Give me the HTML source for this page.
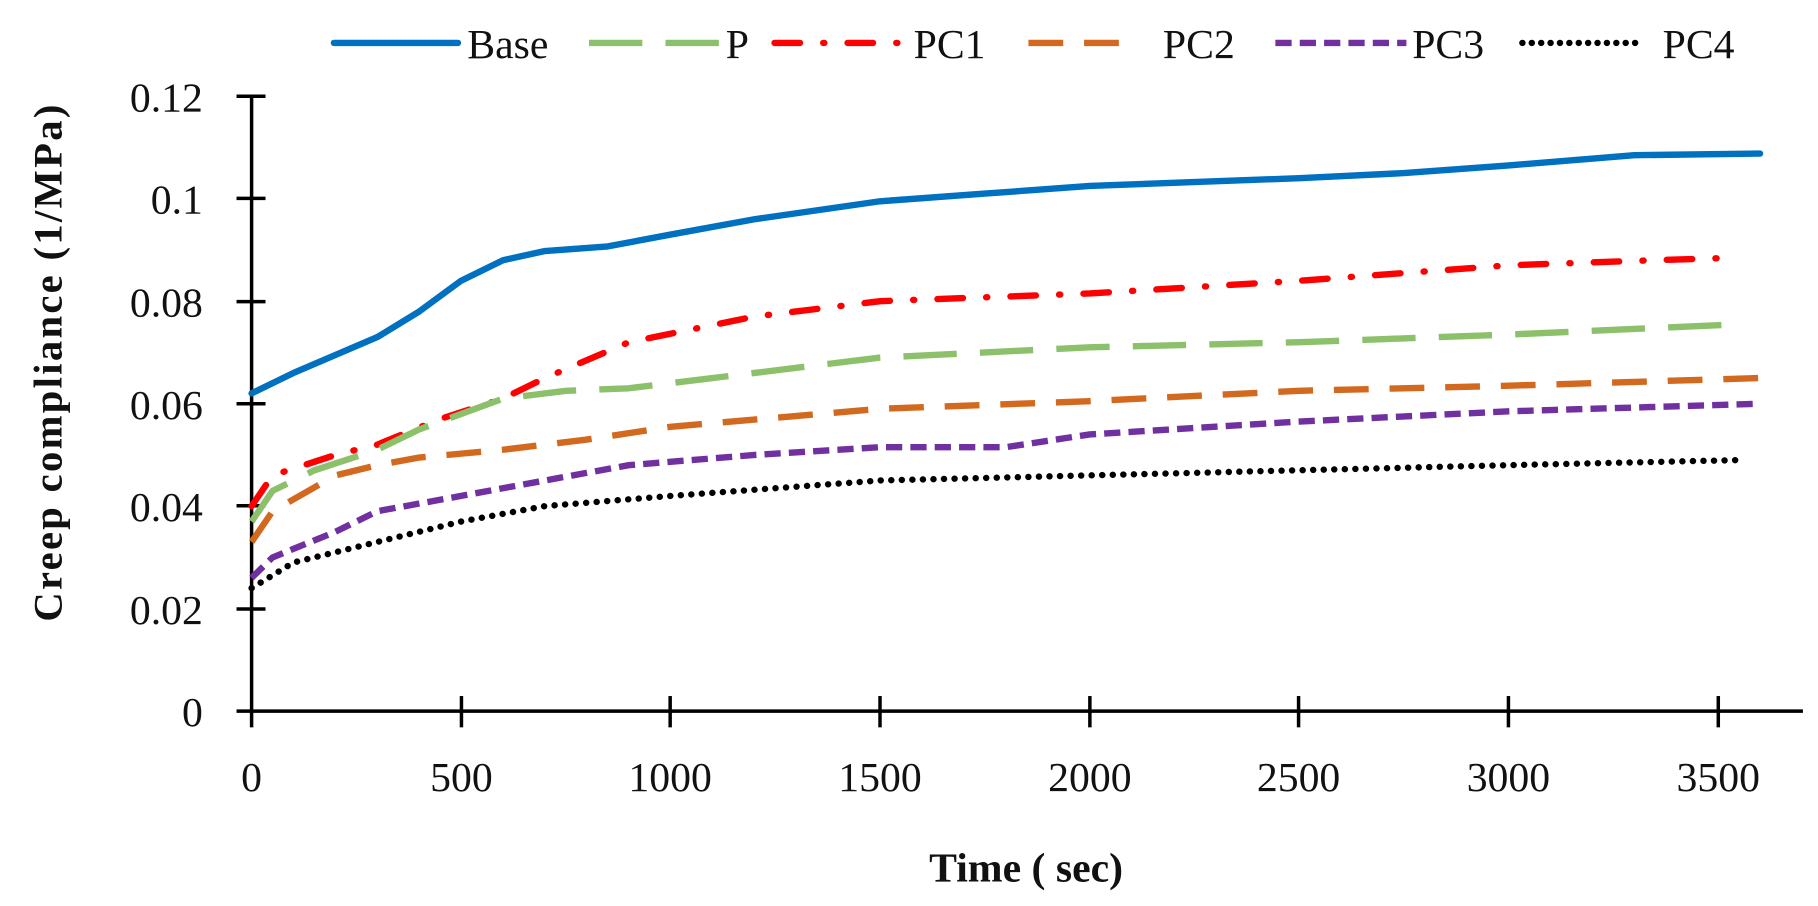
<!DOCTYPE html>
<html><head><meta charset="utf-8">
<style>html,body{margin:0;padding:0;background:#fff;}svg{display:block}</style>
</head><body>
<svg width="1818" height="906" viewBox="0 0 1568 781" preserveAspectRatio="none" xmlns="http://www.w3.org/2000/svg" font-family="'Liberation Serif', serif">
<g stroke="#000" stroke-width="3" fill="none">
<line x1="217" y1="83" x2="217" y2="627"/>
<line x1="204" y1="613" x2="1555" y2="613"/>
<line x1="204" y1="83" x2="229" y2="83"/>
<line x1="204" y1="171" x2="229" y2="171"/>
<line x1="204" y1="260" x2="229" y2="260"/>
<line x1="204" y1="348" x2="229" y2="348"/>
<line x1="204" y1="436" x2="229" y2="436"/>
<line x1="204" y1="525" x2="229" y2="525"/>
<line x1="398" y1="600" x2="398" y2="627"/>
<line x1="578" y1="600" x2="578" y2="627"/>
<line x1="759" y1="600" x2="759" y2="627"/>
<line x1="940" y1="600" x2="940" y2="627"/>
<line x1="1120" y1="600" x2="1120" y2="627"/>
<line x1="1301" y1="600" x2="1301" y2="627"/>
<line x1="1482" y1="600" x2="1482" y2="627"/>
</g>
<g font-size="36" fill="#111" text-anchor="end">
<text x="175" y="96">0.12</text><text x="175" y="184">0.1</text><text x="175" y="273">0.08</text>
<text x="175" y="361">0.06</text><text x="175" y="449">0.04</text><text x="175" y="538">0.02</text>
<text x="175" y="626">0</text>
</g>
<g font-size="36" fill="#111" text-anchor="middle">
<text x="217" y="682">0</text><text x="398" y="682">500</text><text x="578" y="682">1000</text>
<text x="759" y="682">1500</text><text x="940" y="682">2000</text><text x="1120" y="682">2500</text>
<text x="1301" y="682">3000</text><text x="1482" y="682">3500</text>
<text x="885" y="760" font-weight="bold" font-size="36">Time ( sec)</text>
<text transform="translate(53,312) rotate(-90)" font-weight="bold" font-size="35" letter-spacing="2">Creep compliance (1/MPa)</text>
</g>
<g fill="none" stroke-width="5.5" stroke-linejoin="round">
<polyline stroke="#0070C0" stroke-linecap="round" points="217,339.1 253.1,321.5 325.4,290.6 361.6,268.5 397.7,242 433.8,224.3 470,216.4 524.2,212.4 578.4,202.2 650.7,189 759.1,173.5 849.5,166.9 939.8,160.3 1120.5,153.6 1210.9,149.2 1301.2,142.6 1409.6,133.8 1518,132.4"/>
<polyline stroke="#FF0000" stroke-linecap="round" stroke-dasharray="22 20 1 20" points="217,436.3 235.1,409.8 289.3,392.2 325.4,383.3 379.6,361.2 433.8,343.6 470,325.9 542.3,295 650.7,272.9 759.1,259.6 939.8,253 1120.5,242 1301.2,228.7 1427.7,224.3 1500,222.1"/>
<polyline stroke="#8DC06A" stroke-dasharray="46 20" points="217,449.6 235.1,423.1 271.2,405.4 325.4,387.7 361.6,370.1 433.8,343.6 488.1,336.9 542.3,334.7 650.7,321.5 759.1,308.2 939.8,299.4 1120.5,295 1301.2,288.4 1500,279.5"/>
<polyline stroke="#D2691E" stroke-dasharray="30 18" points="217,467.2 235.1,440.7 289.3,409.8 325.4,401 361.6,394.4 433.8,387.7 506.1,378.9 578.4,367.9 759.1,352.4 939.8,345.8 1120.5,336.9 1301.2,332.5 1518,325.9"/>
<polyline stroke="#7030A0" stroke-dasharray="14 7" points="217,498.2 235.1,480.5 289.3,458.4 325.4,440.7 397.7,427.5 470,414.2 542.3,401 650.7,392.2 759.1,385.5 867.5,385.5 939.8,374.5 1120.5,363.4 1301.2,354.6 1518,348"/>
<polyline stroke="#000" stroke-linecap="round" stroke-dasharray="0.1 9" points="217,507 253.1,484.9 325.4,467.2 397.7,449.6 470,436.3 578.4,427.5 759.1,414.2 939.8,409.8 1120.5,405.4 1301.2,401 1500,396.6"/>
</g>
<g fill="none" stroke-width="5.5">
<line x1="288" y1="37" x2="395" y2="37" stroke="#0070C0" stroke-linecap="round"/>
<line x1="508" y1="37" x2="620" y2="37" stroke="#8DC06A" stroke-dasharray="46 20"/>
<line x1="668" y1="37" x2="782" y2="37" stroke="#FF0000" stroke-dasharray="22 20 1 20" stroke-linecap="round"/>
<line x1="887" y1="37" x2="975" y2="37" stroke="#D2691E" stroke-dasharray="30 18"/>
<line x1="1100" y1="37" x2="1213" y2="37" stroke="#7030A0" stroke-dasharray="14 7"/>
<line x1="1313" y1="37" x2="1415" y2="37" stroke="#000" stroke-dasharray="0.1 8" stroke-linecap="round"/>
</g>
<g font-size="36" fill="#111">
<text x="403" y="50">Base</text><text x="626" y="50">P</text><text x="788" y="50">PC1</text>
<text x="1003" y="50">PC2</text><text x="1218" y="50">PC3</text><text x="1434" y="50">PC4</text>
</g>
</svg>
</body></html>
